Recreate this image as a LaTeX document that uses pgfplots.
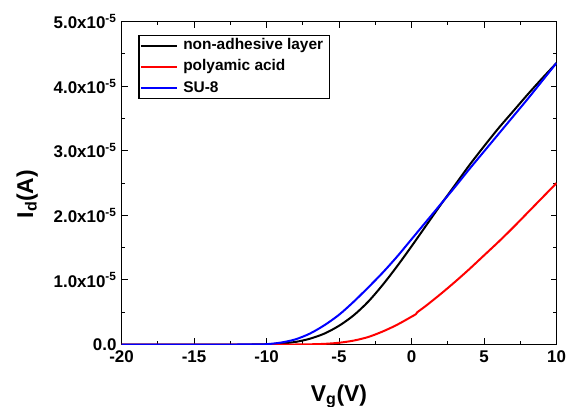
\documentclass[border=0pt]{standalone}
\usepackage{fontspec}
\setmainfont{Liberation Sans}
\usepackage{pgfplots}
\pgfplotsset{compat=1.18}
\usepackage{pgfplotstable}

\pgfplotstableread{
V I
-20 0
-11 0
-10 0.003e-5
-9 0.015e-5
-8 0.04e-5
-7 0.09e-5
-6 0.17e-5
-5 0.29e-5
-4 0.45e-5
-3 0.66e-5
-2 0.92e-5
-1 1.21e-5
0 1.52e-5
1 1.84e-5
2 2.16e-5
3 2.47e-5
4 2.78e-5
5 3.07e-5
6 3.35e-5
7 3.61e-5
8 3.87e-5
9 4.12e-5
10 4.36e-5
}\blackdata

\pgfplotstableread{
V I
-20 0
-8 0
-7 0.003e-5
-6 0.01e-5
-5 0.027e-5
-4 0.06e-5
-3 0.115e-5
-2 0.20e-5
-1 0.305e-5
0 0.43e-5
0.3 0.47e-5
0.4 0.50e-5
1 0.60e-5
2 0.78e-5
3 0.97e-5
4 1.17e-5
5 1.38e-5
6 1.59e-5
7 1.81e-5
8 2.04e-5
9 2.27e-5
10 2.50e-5
}\reddata

\pgfplotstableread{
V I
-20 0
-12 0
-11 0.001e-5
-10 0.005e-5
-9 0.03e-5
-8 0.08e-5
-7 0.17e-5
-6 0.30e-5
-5 0.46e-5
-4 0.66e-5
-3 0.88e-5
-2 1.11e-5
-1 1.36e-5
0 1.63e-5
1 1.90e-5
2 2.17e-5
3 2.44e-5
4 2.72e-5
5 2.99e-5
6 3.26e-5
7 3.53e-5
8 3.80e-5
9 4.08e-5
10 4.36e-5
}\bluedata

\begin{document}
\begin{tikzpicture}
\path[use as bounding box] (0,0) rectangle (573bp,407bp);
\begin{axis}[
  at={(121.5bp,62.5bp)}, anchor=south west,
  scale only axis, width=435bp, height=322.8bp,
  xmin=-20, xmax=10, ymin=0, ymax=5e-5,
  xtick={-20,-15,-10,-5,0,5,10},
  xticklabels={-20,-15,-10,-5,0,5,10},
  minor x tick num=1,
  ytick={0,1e-5,2e-5,3e-5,4e-5,5e-5},
  yticklabels={0.0,1.0x10\textsuperscript{-5},2.0x10\textsuperscript{-5},3.0x10\textsuperscript{-5},4.0x10\textsuperscript{-5},5.0x10\textsuperscript{-5}},
  minor y tick num=1,
  scaled y ticks=false,
  tick align=inside,
  major tick length=6bp, minor tick length=3.5bp,
  every tick/.style={black, line width=1bp},
  axis line style={line width=1.3bp},
  ticklabel style={font=\fontsize{17}{20}\selectfont\bfseries},
  xticklabel style={yshift=-3bp},
  yticklabel style={xshift=-1.5bp},
  xlabel={V\textsubscript{g}(V)},
  ylabel={I\textsubscript{d}(A)},
  xlabel style={at={(axis description cs:0.5,-0.1753)}, anchor=base, font=\fontsize{23}{26}\selectfont\bfseries},
  ylabel style={at={(axis description cs:-0.2034,0.4659)}, anchor=base, rotate=0, font=\fontsize{23}{26}\selectfont\bfseries},
  legend style={at={(0,1)}, anchor=north west, xshift=16.8bp, yshift=-13.3bp,
    draw=black, line width=1.2bp, inner xsep=1bp, inner ysep=1bp,
    font=\fontsize{15.5}{18}\selectfont\bfseries, row sep=3.3bp,
    nodes={inner ysep=2bp, inner xsep=5bp, text height=11bp, text depth=3bp}},
  legend cell align=left,
  legend image code/.code={\draw[#1, line width=2bp] (0bp,0bp) -- (36.4bp,0bp);},
]
\addplot[draw=black, line width=2bp, smooth] table[x=V,y=I] {\blackdata};
\addlegendentry{non-adhesive layer\hspace{7bp}}
\addplot[draw=red, line width=2bp, smooth] table[x=V,y=I] {\reddata};
\addlegendentry{polyamic acid}
\addplot[draw=blue, line width=2bp, smooth] table[x=V,y=I] {\bluedata};
\addlegendentry{SU-8}
\end{axis}
\end{tikzpicture}
\end{document}
